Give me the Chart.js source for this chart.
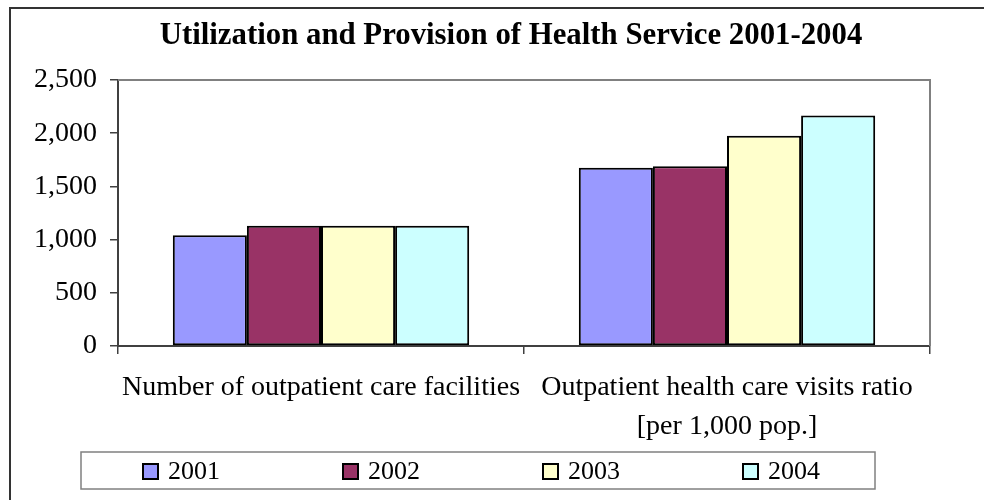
<!DOCTYPE html>
<html>
<head>
<meta charset="utf-8">
<script src="https://cdn.jsdelivr.net/npm/chart.js@4"></script>
<style>
  html, body { margin: 0; padding: 0; background: #fff; }
  #wrap { width: 984px; height: 500px; position: relative; }
</style>
</head>
<body>
<div id="wrap"><canvas id="healthChart"></canvas></div>
<script>
// data
const categories = [
    "Number of outpatient care facilities",
    ["Outpatient health care visits ratio", "[per 1,000 pop.]"],
];
const years = ["2001", "2002", "2003", "2004"];
const values2001 = [1040, 1675];
const values2002 = [1130, 1690];
const values2003 = [1130, 1975];
const values2004 = [1130, 2165];
const yTicks = [0, 500, 1000, 1500, 2000, 2500];
const barColors = ["#9999FF", "#993366", "#FFFFCC", "#CCFFFF"];

const serif = "'Liberation Serif', 'Times New Roman', serif";

// bingkai luar + kotak plot
const framePlugin = {
    id: "frame",
    afterLayout(chart) {
        // judul aslinya sedikit bergeser ke kanan
        if (chart.titleBlock) {
            chart.titleBlock.left = 92;
            chart.titleBlock.right = 930;
            chart.titleBlock.width = 838;
        }
    },
    beforeDraw(chart) {
        const c = chart.ctx;
        c.save();
        c.fillStyle = "#fff";
        c.fillRect(0, 0, chart.width, chart.height);
        c.strokeStyle = "#333";
        c.lineWidth = 2;
        c.beginPath();
        c.moveTo(10, chart.height + 5);
        c.lineTo(10, 8);
        c.lineTo(chart.width + 5, 8);
        c.stroke();
        c.restore();
    },
    beforeDatasetsDraw(chart) {
        const a = chart.chartArea;
        const c = chart.ctx;
        c.save();
        c.strokeStyle = "#808080";
        c.lineWidth = 2;
        c.beginPath();
        c.moveTo(a.left, a.top);
        c.lineTo(a.right, a.top);
        c.lineTo(a.right, a.bottom);
        c.stroke();
        c.restore();
    },
};

// legenda di bawah dalam kotak
const boxLegendPlugin = {
    id: "boxLegend",
    afterDraw(chart) {
        const c = chart.ctx;
        const left = 81, top = 452, right = 875, bottom = 489;
        c.save();
        c.strokeStyle = "#808080";
        c.lineWidth = 1.5;
        c.strokeRect(left, top, right - left, bottom - top);
        const cy = (top + bottom) / 2 + 1;
        c.font = "26px " + serif;
        c.textBaseline = "middle";
        chart.data.datasets.forEach((ds, i) => {
            const x = left + 62 + i * 200;
            c.fillStyle = ds.backgroundColor;
            c.fillRect(x, cy - 7.5, 15, 15);
            c.strokeStyle = "#000";
            c.lineWidth = 2;
            c.strokeRect(x, cy - 7.5, 15, 15);
            c.fillStyle = "#000";
            c.fillText(ds.label, x + 25, cy + 1);
        });
        c.restore();
    },
};

const allValues = [values2001, values2002, values2003, values2004];

const healthChart = new Chart(document.getElementById("healthChart").getContext("2d"), {
    type: "bar",
    data: {
        labels: categories,
        datasets: years.map((y, i) => ({
            label: y,
            data: allValues[i],
            backgroundColor: barColors[i],
            borderColor: "#000",
            borderWidth: 2,
            borderSkipped: false,
            categoryPercentage: 0.73,
            barPercentage: 1.0,
        })),
    },
    options: {
        responsive: true,
        maintainAspectRatio: false,
        animation: false,
        layout: {
            padding: { left: 10, right: 54, top: 0, bottom: 54 },
        },
        plugins: {
            legend: { display: false },
            tooltip: { enabled: false },
            title: {
                display: true,
                text: "Utilization and Provision of Health Service 2001-2004",
                color: "#000",
                font: { family: serif, size: 30.8, weight: "bold", lineHeight: 1.2 },
                padding: { top: 17.4, bottom: 25.6 },
            },
        },
        scales: {
            x: {
                grid: {
                    drawOnChartArea: false,
                    drawTicks: true,
                    tickLength: 8,
                    color: "#404040",
                    lineWidth: 1.5,
                },
                border: { color: "#404040", width: 2 },
                ticks: {
                    color: "#000",
                    padding: 14,
                    maxRotation: 0,
                    autoSkip: false,
                    font: { family: serif, size: 28, lineHeight: 1.4 },
                },
                afterFit(scale) {
                    scale.height = 100;
                },
            },
            y: {
                min: 0,
                max: 2500,
                afterBuildTicks(scale) {
                    scale.ticks = yTicks.map((v) => ({ value: v }));
                },
                grid: {
                    drawOnChartArea: false,
                    drawTicks: true,
                    tickLength: 8,
                    color: "#404040",
                    lineWidth: 1.5,
                },
                border: { color: "#404040", width: 2 },
                ticks: {
                    color: "#000",
                    padding: 13,
                    font: { family: serif, size: 28 },
                    callback: (v) => v.toLocaleString("en-US"),
                },
                afterFit(scale) {
                    scale.width = 108;
                },
            },
        },
    },
    plugins: [framePlugin, boxLegendPlugin],
});
</script>
</body>
</html>
